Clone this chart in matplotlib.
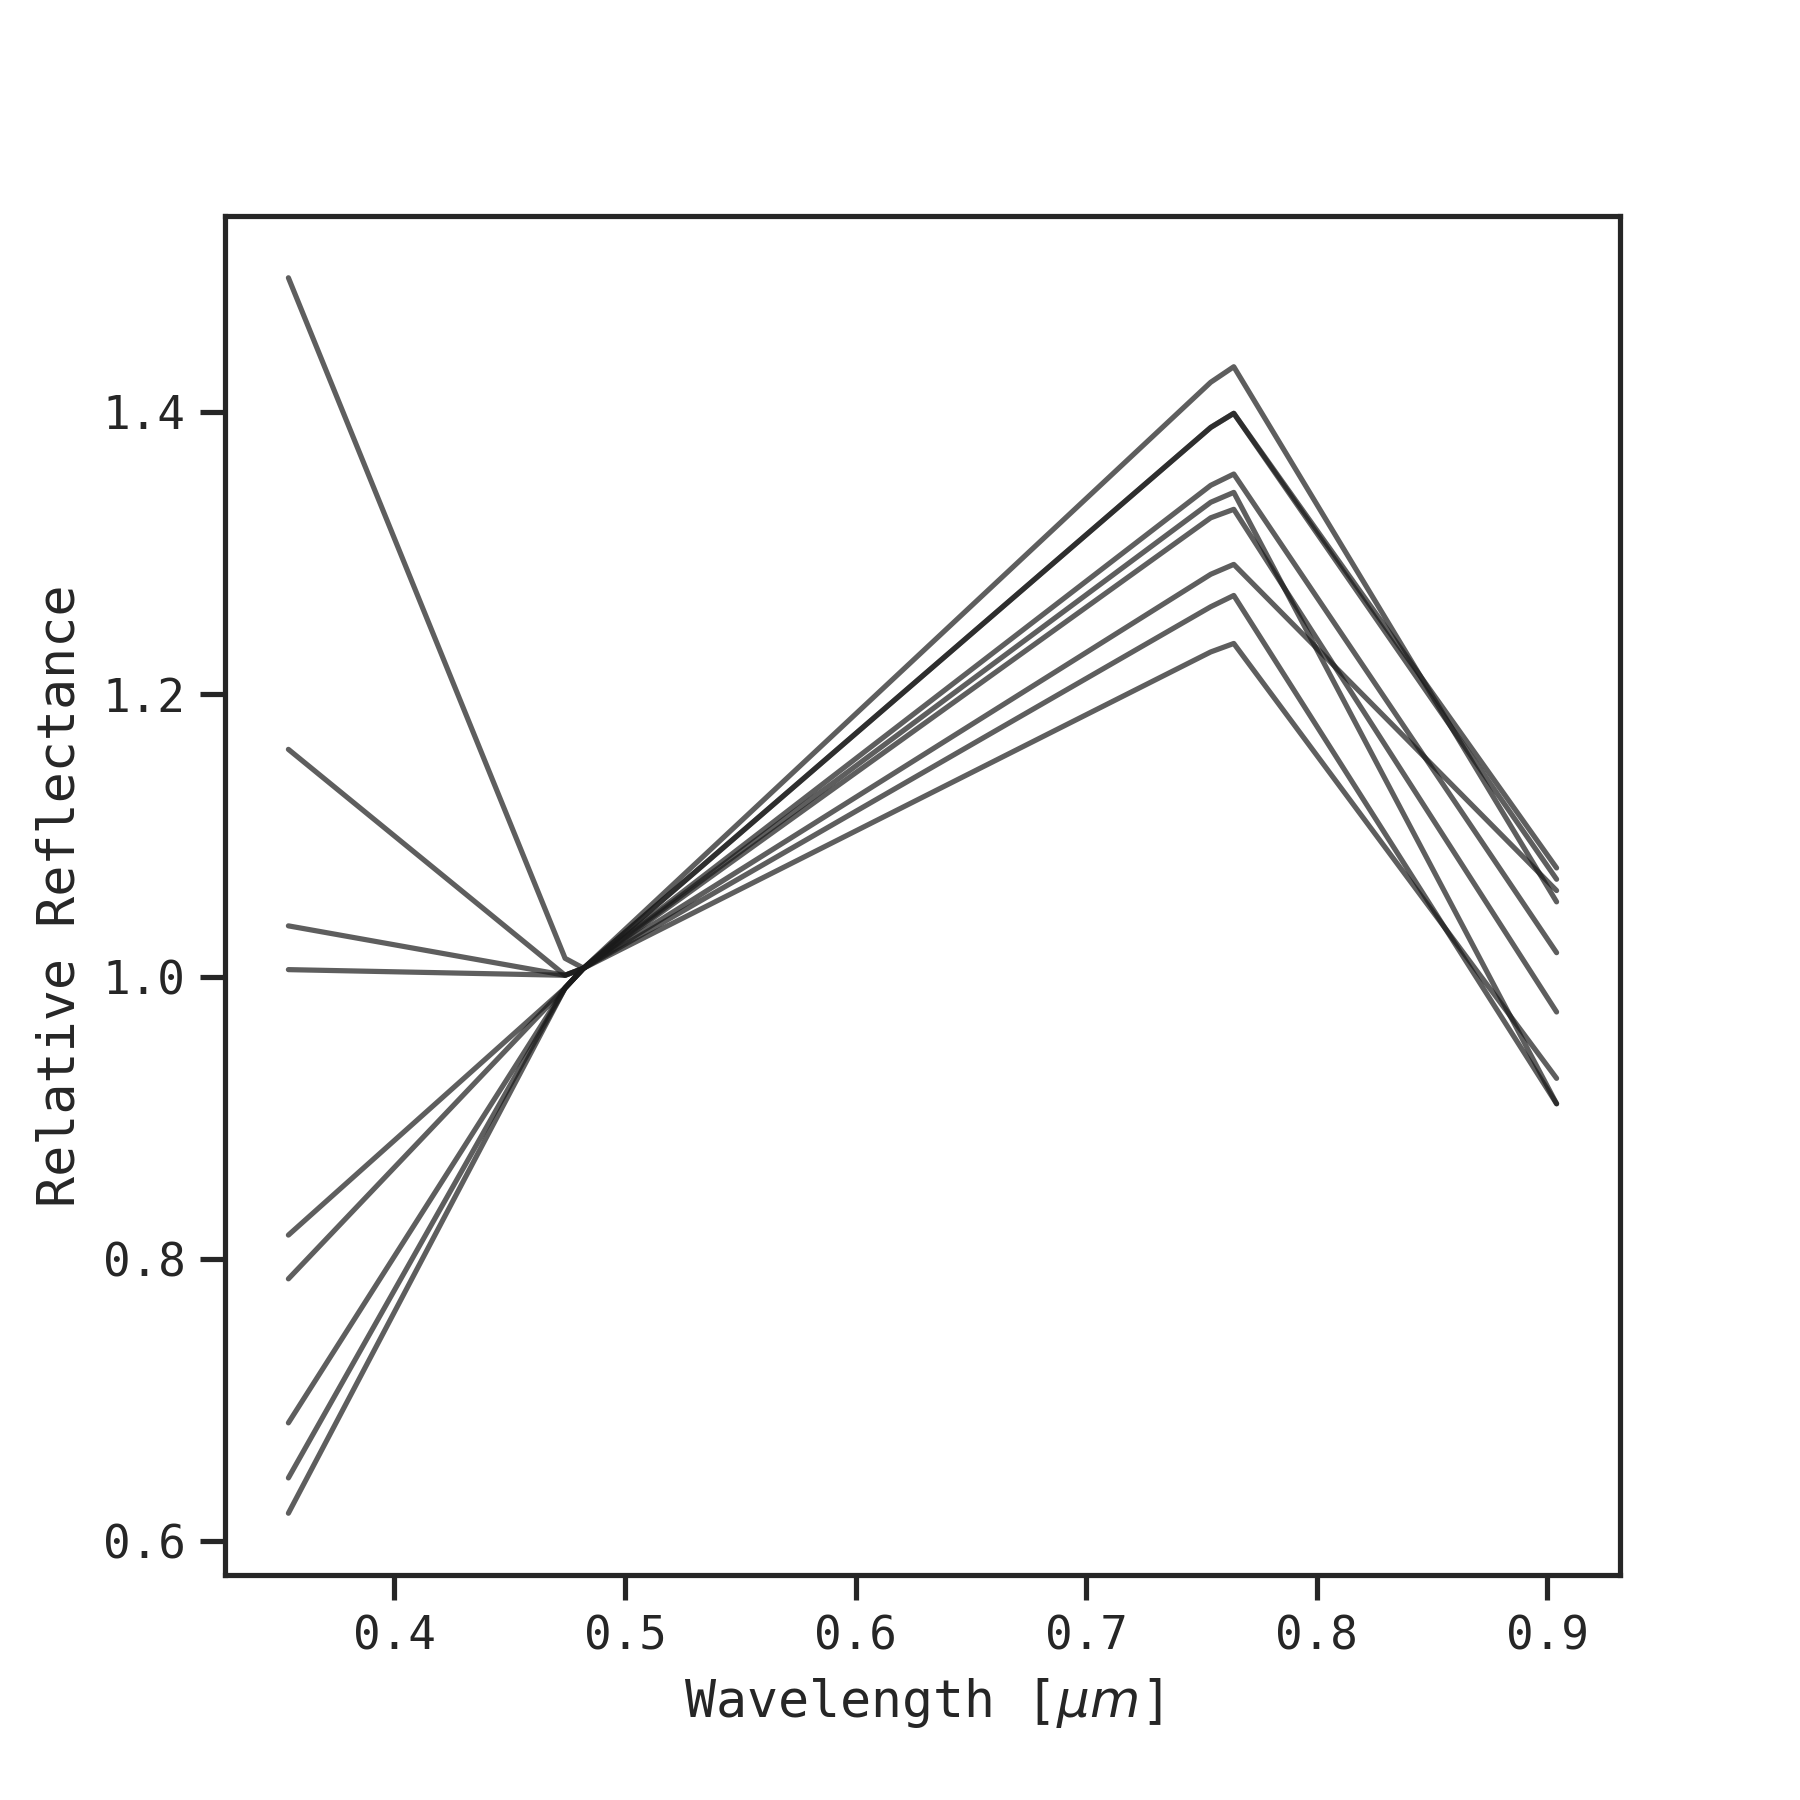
import matplotlib
matplotlib.use("Agg")
import matplotlib.pyplot as plt
import seaborn as sns

# Wavelengths [micron] at which every spectrum is sampled
wavelength = [0.354, 0.474, 0.482, 0.754, 0.764, 0.904]

# Relative reflectance of each spectrum at those wavelengths
spec_1 = [0.645, 0.992, 1.006, 1.421, 1.432, 1.053]
spec_2 = [0.620, 0.992, 1.006, 1.389, 1.399, 1.077]
spec_3 = [0.684, 0.992, 1.006, 1.389, 1.399, 1.069]
spec_4 = [0.786, 0.992, 1.006, 1.348, 1.356, 1.017]
spec_5 = [0.817, 0.992, 1.006, 1.336, 1.343, 0.910]
spec_6 = [1.005, 1.001, 1.006, 1.325, 1.331, 0.975]
spec_7 = [1.036, 1.001, 1.006, 1.285, 1.292, 1.061]
spec_8 = [1.161, 1.001, 1.006, 1.262, 1.270, 0.910]
spec_9 = [1.495, 1.013, 1.006, 1.230, 1.236, 0.928]

spectra = [spec_1, spec_2, spec_3, spec_4, spec_5, spec_6, spec_7, spec_8, spec_9]

sns.set_theme(style="ticks")
plt.rcParams['font.family'] = ['DejaVu Sans Mono', 'DejaVu Sans']

fig, ax = plt.subplots(figsize=(6, 6), dpi=300)
fig.subplots_adjust(left=0.125, right=0.9, top=0.88, bottom=0.125)

for s in spectra:
    ax.plot(wavelength, s, color='k', alpha=0.7, lw=1.25)

ax.set_xlabel(r'Wavelength [$\mu m$]', fontsize=12.4)
ax.set_ylabel('Relative Reflectance', fontsize=12.4)

fig.savefig('out.png', dpi=300)
